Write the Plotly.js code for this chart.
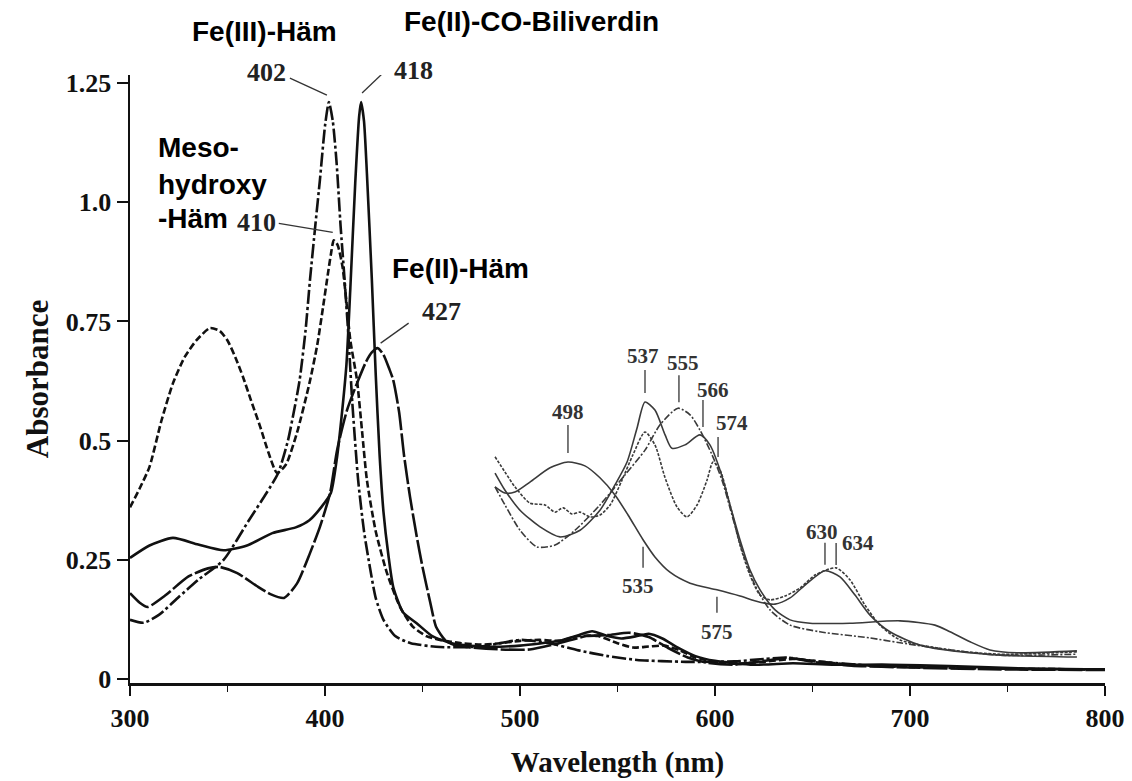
<!DOCTYPE html>
<html>
<head>
<meta charset="utf-8">
<script src="https://cdn.plot.ly/plotly-3.0.1.min.js"></script>
<style>html,body{margin:0;padding:0;background:#fff;}#chart{width:1132px;height:781px;}</style>
</head>
<body>
<div id="chart"></div>
<script>
// ---------- main spectra (wavelength nm / absorbance) ----------
const feIII_wl  = [300,307,315,325,335,348,361,370,376,381,384,387,390,392.3,395,397.4,400,402,404,406,408,410,412,414,417,420,423,426,430,436,444,459,480,500,515,530,545,560,585,610,625,637,650,680,720,760,800];
const feIII_abs = [0.124,0.118,0.135,0.172,0.208,0.25,0.333,0.39,0.432,0.5,0.56,0.627,0.73,0.837,0.95,1.047,1.16,1.21,1.17,1.08,0.95,0.84,0.72,0.58,0.417,0.31,0.235,0.17,0.124,0.09,0.075,0.067,0.068,0.082,0.075,0.06,0.048,0.04,0.036,0.037,0.042,0.045,0.038,0.028,0.024,0.021,0.02];

const meso_wl  = [300,305,310,316,322,328,334,341,346,350,354,358,362,366.7,371,375.4,380,385.6,392,396,399,401.5,403,404.5,406.5,409,411,413,416.4,419,421.5,426,431.8,438.5,445,452,459,470,480,490,500,510,520,530,540,550,558,566,574,582,590,600,610,625,640,655,670,700,740,800];
const meso_abs = [0.36,0.4,0.445,0.54,0.62,0.675,0.71,0.736,0.73,0.71,0.675,0.633,0.585,0.53,0.475,0.432,0.45,0.516,0.62,0.7,0.78,0.85,0.89,0.92,0.91,0.864,0.79,0.71,0.627,0.52,0.417,0.31,0.222,0.151,0.11,0.09,0.082,0.075,0.072,0.075,0.08,0.082,0.08,0.09,0.09,0.075,0.066,0.068,0.07,0.06,0.045,0.036,0.032,0.036,0.042,0.036,0.03,0.025,0.022,0.02];

const coBili_wl  = [300,310,322,335,348,360,373,385,392,398,403,406,408.5,411,413,415.5,417.5,418.5,420,421.5,424,426,428,430,432.5,435,440,447,455,465,480,500,520,530,537,545,552,560,566,573,580,590,600,620,640,660,690,720,760,800];
const coBili_abs = [0.254,0.28,0.296,0.282,0.27,0.28,0.306,0.318,0.333,0.36,0.39,0.46,0.55,0.66,0.82,1.04,1.18,1.21,1.17,1.06,0.84,0.64,0.47,0.35,0.26,0.193,0.14,0.117,0.09,0.075,0.068,0.07,0.08,0.092,0.1,0.09,0.085,0.09,0.095,0.085,0.068,0.048,0.038,0.03,0.033,0.03,0.03,0.027,0.022,0.02];

const feII_wl  = [300,305,309,318,330,340,346,355,365,372,379,385.6,392.3,397.4,402.6,406.2,411.3,416.4,421,424,427,430,433,435,438,440.5,443.6,447,450,454,457,462,467,475,490,505,520,534,545,556,566,576,586,596,610,625,638,650,670,700,750,800];
const feII_abs = [0.18,0.16,0.151,0.175,0.215,0.232,0.235,0.222,0.195,0.178,0.17,0.2,0.264,0.319,0.39,0.48,0.564,0.62,0.665,0.685,0.694,0.68,0.65,0.627,0.56,0.47,0.382,0.3,0.235,0.16,0.109,0.08,0.07,0.066,0.062,0.062,0.075,0.09,0.092,0.097,0.088,0.065,0.045,0.034,0.03,0.038,0.044,0.036,0.028,0.024,0.02,0.019];

// ---------- magnified visible-region curves (as plotted, offset inset) ----------
const insA_wl  = [487.2,492.3,497.4,505.1,515.4,524.6,533.3,541,548.7,555.4,563.1,569.2,576.9,587.2,601,612.8,623.1,630.8,638.5,646.2,656.4,664.1,671.8,679.5,689.7,705.1,725.6,746.2,785.6];
const insA_abs = [0.403,0.39,0.392,0.413,0.443,0.455,0.447,0.422,0.386,0.344,0.292,0.256,0.224,0.201,0.187,0.174,0.161,0.157,0.17,0.197,0.227,0.214,0.176,0.134,0.099,0.071,0.057,0.05,0.046];

const insB_wl  = [487.2,492.3,500,510.3,520.5,530.8,541,548.7,554.9,560,564.1,569.2,574.4,577.9,584.6,592.3,597.4,602.6,607.7,612.8,617.9,623.1,630.8,638.5,648.7,669.2,694.9,712.8,720.5,730.8,741,754.9,785.6];
const insB_abs = [0.432,0.396,0.354,0.319,0.298,0.312,0.354,0.407,0.455,0.526,0.581,0.564,0.512,0.484,0.491,0.512,0.491,0.438,0.365,0.292,0.229,0.187,0.145,0.124,0.117,0.117,0.122,0.113,0.099,0.078,0.061,0.055,0.059];

const insC_wl  = [487.2,492.3,500,508.7,518,528.2,541,553.8,564.1,571.8,581,587.2,592.3,598.5,603.6,608.7,613.8,620.5,628.2,638.5,653.8,679.5,694.9,720.5,746.2,785.6];
const insC_abs = [0.403,0.365,0.312,0.277,0.281,0.312,0.365,0.428,0.48,0.533,0.568,0.554,0.522,0.47,0.417,0.344,0.271,0.197,0.145,0.113,0.099,0.086,0.076,0.061,0.05,0.052];

const insD_wl  = [487.2,492.3,497.4,505.1,512.8,517.9,522.1,526.7,530.8,535.9,541,546.2,552.3,557.9,564.1,569.2,574.4,580.5,585.6,590.8,595.9,599,602.6,607.7,612.8,617.9,623.1,628.2,635.9,643.6,651.3,662.1,669.2,676.9,684.6,694.9,720.5,746.2,785.6];
const insD_abs = [0.466,0.434,0.403,0.369,0.365,0.35,0.359,0.346,0.35,0.34,0.344,0.365,0.417,0.47,0.518,0.491,0.422,0.361,0.34,0.365,0.417,0.455,0.438,0.365,0.281,0.218,0.176,0.166,0.174,0.191,0.218,0.233,0.208,0.155,0.113,0.082,0.061,0.052,0.057];

// ---------- axis ticks ----------
const xTickVals = [300,400,500,600,700,800];
const xMinorVals = [350,450,550,650,750];
const yTickVals = [0,0.25,0.5,0.75,1.0,1.25];
const yTickText = ['0','0.25','0.5','0.75','1.0','1.25'];

// ---------- geometry ----------
const M = {l:130, r:27, t:75, b:98};
const X_RANGE = [300,800];
const Y_RANGE = [-0.0084,1.2668];
const plotW = 1132 - M.l - M.r, plotH = 781 - M.t - M.b;
const pxPerNm = plotW/(X_RANGE[1]-X_RANGE[0]);
const pxPerA = plotH/(Y_RANGE[1]-Y_RANGE[0]);

const SERIF = 'Liberation Serif, Times New Roman, serif';
const SANS = 'Liberation Sans, Arial, sans-serif';

function peakOf(xs, ys, lo, hi){
  let bi=-1;
  for(let i=0;i<xs.length;i++){ if(xs[i]>=lo && xs[i]<=hi && (bi<0 || ys[i]>ys[bi])) bi=i; }
  return [xs[bi], ys[bi]];
}
function valueAt(xs, ys, x){
  for(let i=1;i<xs.length;i++){ if(xs[i]>=x){ const t=(x-xs[i-1])/(xs[i]-xs[i-1]); return [x, ys[i-1]+t*(ys[i]-ys[i-1])]; } }
  return [x, ys[ys.length-1]];
}

function mainTrace(x,y,name,dash){
  return {x:x,y:y,name:name,type:'scatter',mode:'lines',
    line:{color:'#111',width:2.6,dash:dash,shape:'spline',smoothing:0.6},hoverinfo:'skip'};
}
function insetTrace(x,y,name,dash){
  return {x:x,y:y,name:name,type:'scatter',mode:'lines',
    line:{color:'#3a3a3a',width:1.6,dash:dash,shape:'spline',smoothing:0.7},hoverinfo:'skip'};
}

const traces = [
  insetTrace(insA_wl, insA_abs, 'Fe(III)-Häm (vergrößert)', 'solid'),
  insetTrace(insB_wl, insB_abs, 'Fe(II)-CO-Biliverdin (vergrößert)', 'solid'),
  insetTrace(insC_wl, insC_abs, 'Fe(II)-Häm (vergrößert)', '7px,2px,2px,2px'),
  insetTrace(insD_wl, insD_abs, 'Meso-hydroxy-Häm (vergrößert)', '3px,1.5px'),
  mainTrace(feIII_wl, feIII_abs, 'Fe(III)-Häm', '14px,3px,3px,3px'),
  mainTrace(meso_wl, meso_abs, 'Meso-hydroxy-Häm', '7px,3px'),
  mainTrace(coBili_wl, coBili_abs, 'Fe(II)-CO-Biliverdin', 'solid'),
  mainTrace(feII_wl, feII_abs, 'Fe(II)-Häm', '24px,3px')
];

// label specs: anchor point on a curve, leader line (pixel offsets), text offset (pixels)
const labels = [
  {t:'402', p:peakOf(feIII_wl,feIII_abs,395,410), l:[-39,-24,-2,-7], s:[-62,-30], big:true},
  {t:'418', p:peakOf(coBili_wl,coBili_abs,412,425), l:[25,-32,1,-9], s:[52,-32], big:true},
  {t:'410', p:peakOf(meso_wl,meso_abs,398,412), l:[-55,-17,-1,-8], s:[-77,-18], big:true},
  {t:'427', p:peakOf(feII_wl,feII_abs,420,440), l:[31,-25,3,-5], s:[64,-37], big:true},
  {t:'498', p:peakOf(insA_wl,insA_abs,510,540), l:[0,-9,0,-37], s:[0,-50]},
  {t:'537', p:peakOf(insB_wl,insB_abs,555,575), l:[0,-9,0,-32], s:[-2,-46]},
  {t:'555', p:peakOf(insC_wl,insC_abs,575,590), l:[1,-6,1,-33], s:[5,-45]},
  {t:'566', p:peakOf(insB_wl,insB_abs,585,600), l:[3,-8,3,-35], s:[13,-45]},
  {t:'574', p:peakOf(insD_wl,insD_abs,596,604), l:[5,-5,5,-25], s:[19,-39]},
  {t:'630', p:peakOf(insA_wl,insA_abs,645,670), l:[0,-6,0,-28], s:[-3,-39]},
  {t:'634', p:peakOf(insD_wl,insD_abs,655,675), l:[0,-3,0,-25], s:[22,-25]},
  {t:'535', p:valueAt(insA_wl,insA_abs,563.1), l:[0,7,0,28], s:[-5,46]},
  {t:'575', p:valueAt(insA_wl,insA_abs,601), l:[0,7,0,23], s:[0,42]}
];

const shapes = [];
const annotations = [];
labels.forEach(L=>{
  const [px,py] = L.p;
  shapes.push({type:'line',xref:'x',yref:'y',
    x0:px+L.l[0]/pxPerNm, y0:py-L.l[1]/pxPerA, x1:px+L.l[2]/pxPerNm, y1:py-L.l[3]/pxPerA,
    line:{color:'#333',width:1.3}});
  annotations.push({xref:'x',yref:'y',x:px,y:py,xshift:L.s[0],yshift:-L.s[1],showarrow:false,
    text:L.t,font:{family:SERIF,size:L.big?26:21,weight:'bold',color:L.big?'#222':'#333'},
    xanchor:'center',yanchor:'middle'});
});

function paperX(px){return (px-M.l)/plotW;}
function paperY(py){return (781-M.b-py)/plotH;}
const nameFont = {family:SANS,size:28,weight:'bold',color:'#000'};
[
  {t:'Fe(III)-Häm', x:264, y:32, a:'center'},
  {t:'Fe(II)-CO-Biliverdin', x:531, y:22, a:'center'},
  {t:'Fe(II)-Häm', x:460, y:268, a:'center'},
  {t:'Meso-', x:156, y:147, a:'left'},
  {t:'hydroxy', x:156, y:184, a:'left'},
  {t:'-Häm', x:156, y:219, a:'left'}
].forEach(o=>{
  annotations.push({xref:'paper',yref:'paper',x:paperX(o.x),y:paperY(o.y),text:o.t,showarrow:false,
    xanchor:o.a,yanchor:'middle',font:nameFont});
});

const layout = {
  width:1132, height:781,
  margin:{l:M.l,r:M.r,t:M.t,b:M.b,pad:0},
  paper_bgcolor:'#fff', plot_bgcolor:'#fff',
  showlegend:false,
  font:{family:SERIF,color:'#000'},
  xaxis:{range:X_RANGE, tickvals:xTickVals, ticks:'outside', ticklen:10, tickwidth:2, tickcolor:'#111',
    minor:{tickvals:xMinorVals, ticks:'outside', ticklen:6, tickwidth:1.5, tickcolor:'#111'},
    showline:true, linecolor:'#111', linewidth:2.5, showgrid:false, zeroline:false,
    tickfont:{family:SERIF,size:26,weight:'bold',color:'#111'},
    title:{text:'Wavelength (nm)', font:{family:SERIF,size:29,weight:'bold',color:'#111'}, standoff:20}},
  yaxis:{range:Y_RANGE, tickvals:yTickVals, ticktext:yTickText, ticks:'outside', ticklen:11, tickwidth:2, tickcolor:'#111',
    showline:true, linecolor:'#111', linewidth:2.5, showgrid:false, zeroline:false,
    tickfont:{family:SERIF,size:26,weight:'bold',color:'#111'},
    title:{text:'Absorbance', font:{family:SERIF,size:31,weight:'bold',color:'#111'}, standoff:8}},
  shapes:shapes,
  annotations:annotations
};

Plotly.newPlot('chart', traces, layout, {displayModeBar:false, staticPlot:true});
</script>
</body>
</html>
